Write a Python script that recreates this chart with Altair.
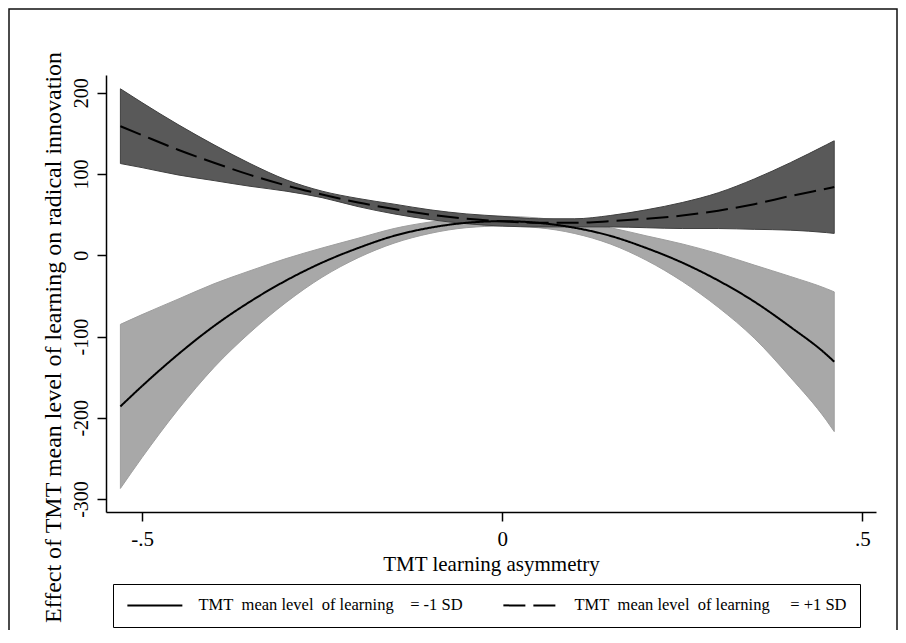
import altair as alt
import pandas as pd

# ---- data ----
x_vals = [-0.53, -0.5, -0.45, -0.4, -0.35, -0.3, -0.25, -0.2, -0.15, -0.1, -0.05,
          0.0, 0.05, 0.1, 0.15, 0.2, 0.25, 0.3, 0.35, 0.4, 0.45, 0.461]

# TMT mean level of learning = -1 SD (solid line, light band)
minus_mean = [-186, -161, -122, -87, -57, -31, -9, 9, 24, 34, 40,
              42, 40, 34, 24, 9, -9, -31, -57, -88, -122, -131]
minus_lo = [-287, -249, -190, -138, -95, -58, -27, -3, 15, 27, 34,
            36, 34, 27, 14, -6, -32, -64, -102, -150, -203, -217]
minus_hi = [-85, -73, -54, -35, -19, -4, 9, 21, 33, 41, 46,
            48, 46, 41, 34, 24, 14, 2, -12, -26, -41, -45]

# TMT mean level of learning = +1 SD (dashed line, dark band)
plus_mean = [159, 148, 130, 114, 99, 86, 75, 65, 57, 50, 45,
             42, 40, 40, 42, 45, 49, 55, 63, 73, 82, 84]
plus_lo = [113, 108, 99, 92, 85, 79, 71, 60, 51, 44, 39,
           36, 35, 35, 35, 34, 33, 33, 32, 31, 28, 27]
plus_hi = [205, 188, 161, 136, 113, 93, 79, 70, 63, 56, 51,
           48, 45, 45, 49, 56, 65, 77, 94, 114, 136, 141]

series_names = [
    "TMT\u00a0\u00a0mean level\u00a0\u00a0of learning\u00a0\u00a0\u00a0\u00a0= -1 SD",
    "TMT\u00a0\u00a0mean level\u00a0\u00a0of learning\u00a0\u00a0\u00a0\u00a0\u00a0= +1 SD",
]

x_ticks = [-0.5, 0.0, 0.5]
x_tick_labels = ["-.5", "0", ".5"]
y_ticks = [-300, -200, -100, 0, 100, 200]
y_tick_labels = ["-300", "-200", "-100", "0", "100", "200"]

x_title = "TMT learning asymmetry"
y_title = "Effect of TMT mean level of learning on radical innovation"


def label_expr(values, labels):
    parts = [f"abs(datum.value - ({v})) < 1e-6 ? '{l}'" for v, l in zip(values, labels)]
    return " : ".join(parts) + " : ''"


band_df = pd.DataFrame({
    "x": x_vals,
    "mlo": minus_lo, "mhi": minus_hi,
    "plo": plus_lo, "phi": plus_hi,
})
line_df = pd.DataFrame({
    "x": x_vals * 2,
    "y": minus_mean + plus_mean,
    "series": [series_names[0]] * len(x_vals) + [series_names[1]] * len(x_vals),
})

FONT = "Liberation Serif"

xscale = alt.Scale(domain=[-0.55, 0.519], nice=False, zero=False)
yscale = alt.Scale(domain=[-316, 222], nice=False, zero=False)

x_axis = alt.Axis(
    values=x_ticks, labelExpr=label_expr(x_ticks, x_tick_labels), title=x_title,
    grid=False, tickSize=9, tickWidth=1.5, tickColor="black", domainColor="black",
    domainWidth=1.5, labelFont=FONT, labelFontSize=21, labelColor="black",
    labelPadding=7, titleFont=FONT, titleFontSize=21, titleFontWeight="normal",
    titleColor="black", titlePadding=4,
)
y_axis = alt.Axis(
    values=y_ticks, labelExpr=label_expr(y_ticks, y_tick_labels), title=y_title,
    grid=False, tickSize=9, tickWidth=1.5, tickColor="black", domainColor="black",
    domainWidth=1.5, labelFont=FONT, labelFontSize=20, labelColor="black",
    labelAngle=270, labelAlign="center", labelBaseline="alphabetic", labelPadding=10,
    titleFont=FONT, titleFontSize=24, titleFontWeight="normal", titleColor="black",
    titleAngle=270, titleAlign="center", titleBaseline="alphabetic",
    titleX=-46, titleY=262,
)

base = alt.Chart(band_df)

light_band = base.mark_area(color="#a8a8a8", stroke="#9e9e9e", strokeWidth=1,
                            interpolate="monotone").encode(
    x=alt.X("x:Q", scale=xscale, axis=x_axis),
    y=alt.Y("mlo:Q", scale=yscale, axis=y_axis),
    y2="mhi:Q",
)
dark_band = base.mark_area(color="#595959", stroke="#404040", strokeWidth=1,
                           interpolate="monotone").encode(
    x=alt.X("x:Q", scale=xscale),
    y=alt.Y("plo:Q", scale=yscale),
    y2="phi:Q",
)

lines = alt.Chart(line_df).mark_line(color="black", strokeWidth=2,
                                     interpolate="monotone").encode(
    x=alt.X("x:Q", scale=xscale),
    y=alt.Y("y:Q", scale=yscale),
    strokeDash=alt.StrokeDash(
        "series:N",
        scale=alt.Scale(domain=series_names, range=[[1, 0], [22, 8]]),
        legend=alt.Legend(
            orient="none", legendX=7, legendY=509, direction="horizontal",
            title=None, symbolType="M-1,0H7", symbolSize=189, symbolStrokeWidth=2,
            symbolStrokeColor="black", symbolFillColor="transparent",
            labelFont=FONT, labelFontSize=16.5,
            labelColor="black", labelOffset=56, columnPadding=36, padding=13,
            strokeColor="black", fillColor="white", labelLimit=500,
        ),
    ),
)

frame = alt.Chart(pd.DataFrame({"d": [0]})).mark_rect(
    fill="white", fillOpacity=0, stroke="#111111", strokeWidth=1.5
).encode(
    x=alt.value(-97), x2=alt.value(791), y=alt.value(-66), y2=alt.value(560)
)

chart = alt.layer(frame, light_band, dark_band, lines).properties(
    width=770, height=437,
    autosize=alt.AutoSizeParams(type="none"),
    padding={"left": 98, "top": 67, "right": 22, "bottom": 118},
    background="white",
).configure_view(stroke=None)

chart.save("out.html", embed_options={"renderer": "svg", "actions": False})
